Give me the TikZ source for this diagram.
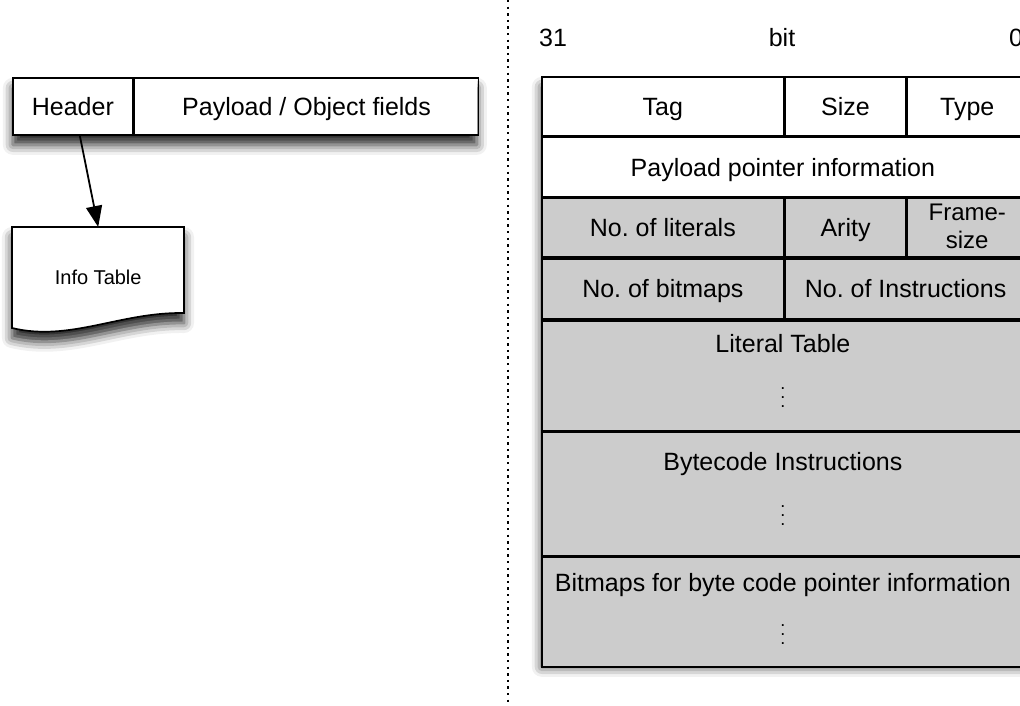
\documentclass[tikz,border=0pt]{standalone}
\usepackage{fontspec}
\setmainfont{Liberation Sans}
\usetikzlibrary{shadows.blur,arrows.meta}
\definecolor{cellgrey}{HTML}{CCCCCC}
\frenchspacing
% three stacked dots used as a "continues" mark inside a table row
\newcommand\stackdots{\vbox{\baselineskip=9pt\lineskiplimit=0pt\hbox{.}\hbox{.}\hbox{.}}}
\begin{document}
\begin{tikzpicture}[x=1pt,y=-1pt,
  every node/.style={font=\fontsize{25}{28}\selectfont},
  one/.style={text height=18pt, text depth=0pt},
  box/.style={draw, line width=1.7pt, inner sep=0pt, anchor=north west},
  grey/.style={fill=cellgrey},
  shade/.style={fill=white, blur shadow={shadow xshift=0pt, shadow yshift=-10pt,
      shadow blur radius=10pt, shadow opacity=85}},
  link/.style={line width=1.8pt, -{Triangle[length=21pt,width=16pt,fill=black]}},
  sep/.style={line width=2.2pt, dash pattern=on 2.4pt off 4.2pt},
  dotsmark/.style={font=\fontsize{18}{18}\selectfont, inner sep=0pt}
]
\useasboundingbox (0,0) rectangle (1020,705);

% ---------- left: object layout ----------
\node[box, draw=none, shade, minimum width=464pt, minimum height=57pt] (objbg) at (12,77) {};
\node[box, one, minimum width=120pt, minimum height=57pt] (hdr) at (12,77) {Header};
\node[box, one, minimum width=344pt, minimum height=57pt] (pay) at (hdr.north east) {Payload / Object fields};

% info table drawn as a document shape
\draw[line width=1.7pt, shade] (12,227) -- (184,227) -- (184,313)
   .. controls (120,312) and (70,342) .. (12,328) -- cycle;
\node[inner sep=0pt, minimum width=172pt, minimum height=101pt, anchor=north west,
      text height=14pt, text depth=0pt,
      font=\fontsize{20}{22}\selectfont] (info) at (12,227) {Info Table};

\draw[link] ([xshift=7pt]hdr.south) -- (info.north);

% ---------- separator ----------
\coordinate (sepTop) at (508,0);
\coordinate (sepBot) at (508,705);
\draw[sep] (sepTop) -- (sepBot);

% ---------- right: info table word layout ----------
\node[one] (b31) at (553,37) {31};
\node[one] (bitlbl) at (782,37) {bit};
\node[one, anchor=west, inner sep=0pt] (b0) at (1009,37) {0};

\node[box, draw=none, shade, minimum width=482pt, minimum height=580pt] (tblbg) at (541,76) {};

\node[box, one, minimum width=242pt, minimum height=59pt] (tag) at (541,76) {Tag};
\node[box, one, minimum width=120pt, minimum height=59pt] (size) at (tag.north east) {Size};
\node[box, one, minimum width=120pt, minimum height=59pt] (type) at (size.north east) {Type};

\node[box, one, minimum width=482pt, minimum height=59pt] (ppi) at (tag.south west) {Payload pointer information};

\node[box, one, grey, minimum width=242pt, minimum height=59pt] (nlit) at (ppi.south west) {No. of literals};
\node[box, one, grey, minimum width=120pt, minimum height=59pt] (arity) at (nlit.north east) {Arity};
\node[box, grey, minimum width=120pt, minimum height=59pt] (frame) at (arity.north east) {};
\node[align=center, inner sep=0pt, font=\fontsize{24}{28}\selectfont] (frametxt) at ([yshift=1pt]frame.center) {Frame-\\size};

\node[box, one, grey, minimum width=242pt, minimum height=60pt] (nbm) at (nlit.south west) {No. of bitmaps};
\node[box, one, grey, minimum width=240pt, minimum height=60pt] (ninstr) at (nbm.north east) {No. of Instructions};

\node[box, grey, minimum width=482pt, minimum height=110pt] (littab) at (nbm.south west) {};
\node[one] (littxt) at ([yshift=-24pt]littab.north) {Literal Table};
\node[dotsmark] (litdots) at ([yshift=-78pt]littab.north) {\stackdots};

\node[box, grey, minimum width=482pt, minimum height=123pt] (bcode) at (littab.south west) {};
\node[one] (bctxt) at ([yshift=-30pt]bcode.north) {Bytecode Instructions};
\node[dotsmark] (bcdots) at ([yshift=-84pt]bcode.north) {\stackdots};

\node[box, grey, minimum width=482pt, minimum height=110pt] (bmaps) at (bcode.south west) {};
\node[one] (bmtxt) at ([yshift=-26pt]bmaps.north) {Bitmaps for byte code pointer information};
\node[dotsmark] (bmdots) at ([yshift=-78pt]bmaps.north) {\stackdots};
\end{tikzpicture}
\end{document}
